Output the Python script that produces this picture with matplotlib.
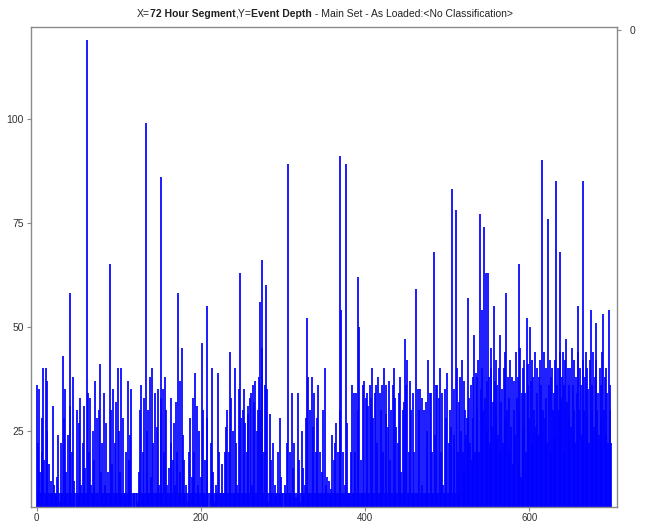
import numpy as np
import matplotlib
matplotlib.use("Agg")
import matplotlib.pyplot as plt

plt.rcParams['font.family'] = ['Liberation Sans', 'DejaVu Sans']

# event depth per 72 hour segment in rows of 50
depth_000 = [36,22,10,35,15,10,20,28,40,18,10,40,25,37,10,17,10,13,10,10,31,12,10,9,10,14,24,10,8,10,22,10,43,28,10,35,15,10,24,10,58,31,10,20,38,13,10,5,10,30]
depth_050 = [10,27,10,33,12,10,22,10,31,16,10,119,34,10,20,33,12,10,25,10,18,37,10,28,8,10,30,41,15,10,22,10,34,12,10,27,10,15,10,65,30,10,17,35,10,22,10,32,10,40]
depth_100 = [25,10,15,40,10,28,10,8,10,20,10,37,18,10,24,35,10,5,10,10,3,10,10,8,15,10,30,36,10,20,10,33,10,99,25,10,30,10,38,14,10,40,22,10,34,10,26,10,35,12]
depth_150 = [10,33,86,10,35,20,38,10,30,12,10,16,10,22,33,10,18,27,10,12,32,20,58,10,37,15,10,45,24,10,18,10,12,10,8,10,20,28,10,14,33,10,20,39,10,31,12,10,25,10]
depth_200 = [14,46,10,30,10,18,10,28,55,10,4,10,22,40,10,15,10,8,10,12,10,39,20,10,8,10,17,10,10,20,26,10,30,10,20,44,10,33,10,25,10,40,10,22,12,10,35,10,63,28]
depth_250 = [10,30,10,35,27,10,20,29,31,10,33,34,12,36,10,32,37,10,25,30,10,38,56,30,66,45,10,20,36,60,35,10,8,10,29,10,18,10,22,10,12,10,9,10,20,10,28,10,14,10]
depth_300 = [10,4,10,12,10,22,89,10,10,20,10,34,16,10,22,10,9,10,34,18,10,8,10,25,10,16,10,12,28,52,38,10,10,30,10,38,26,10,34,10,20,10,28,36,10,20,10,15,10,30]
depth_350 = [10,40,12,10,14,10,13,10,11,10,24,10,18,22,10,27,10,20,10,30,91,54,10,20,10,12,4,89,27,10,10,8,10,20,36,10,34,10,20,34,10,30,62,50,10,18,10,36,10,37]
depth_400 = [10,33,10,34,31,10,36,33,40,10,28,10,34,36,10,22,38,10,34,30,10,36,20,40,10,29,36,10,26,37,10,18,30,10,36,40,10,33,26,10,22,34,10,38,15,10,30,10,32,47]
depth_450 = [36,42,10,20,10,37,30,10,34,10,20,10,59,10,35,10,30,35,10,33,12,10,30,10,32,25,10,42,10,34,34,10,20,10,68,24,10,36,36,10,33,40,20,10,34,12,10,35,10,28]
depth_500 = [39,10,22,10,30,26,83,10,35,24,10,78,40,20,10,32,38,25,42,20,37,15,30,24,28,57,28,33,22,36,18,38,28,48,20,39,30,38,42,20,77,35,40,54,30,74,33,63,25,37]
depth_550 = [63,38,22,45,40,26,32,55,37,42,28,36,24,40,20,48,32,35,22,40,28,44,58,30,38,20,33,42,26,38,17,30,37,24,44,33,38,65,30,45,14,34,40,26,42,34,20,52,36,41]
depth_600 = [28,50,37,42,22,38,30,44,26,40,34,24,38,42,30,36,90,30,44,28,33,40,22,76,36,42,20,38,40,30,34,24,42,85,36,40,30,44,68,33,38,44,20,36,42,47,32,40,28,36]
depth_650 = [40,26,45,36,30,42,22,38,34,44,55,30,40,36,24,42,85,30,38,44,28,40,35,22,42,54,36,30,44,26,38,42,51,30,34,24,40,36,28,44,53,30,38,24,40,34,22,54,30,36,22]

depth = np.array(depth_000 + depth_050 + depth_100 + depth_150 + depth_200 + depth_250 + depth_300
                 + depth_350 + depth_400 + depth_450 + depth_500 + depth_550 + depth_600 + depth_650)
segment = np.arange(len(depth))

yticks = [25, 50, 75, 100]
xticks = [0, 200, 400, 600]

fig = plt.figure(figsize=(6.55, 5.22), dpi=100)
ax = fig.add_axes([0.0473, 0.0287, 0.8947, 0.9195])

ax.vlines(segment, 0, depth, color='#0000ff', linewidth=1.25)

ax.set_xlim(-7, 707)
ax.set_ylim(6.7, 122)
ax.set_xticks(xticks)
ax.set_yticks(yticks)
for s in ax.spines.values():
    s.set_color('#8a8a8a')
    s.set_linewidth(1.0)
ax.tick_params(direction='out', length=3, width=0.8, color='#8a8a8a',
               labelsize=7.5, labelcolor='#333333', pad=2)
ax.tick_params(axis='x', labelsize=7, pad=1)

# right hand axis, only a single "0" at the top
ax2 = ax.twinx()
ax2.set_ylim(0, 1)
ax2.set_yticks([0.993])
ax2.set_yticklabels(['0'])
ax2.tick_params(direction='out', length=3, width=0.8, color='#8a8a8a',
                labelsize=7.5, labelcolor='#333333', pad=6)
for s in ax2.spines.values():
    s.set_visible(False)

# title with bold pieces
pieces = [("X=", 'normal'), ("72 Hour Segment", 'bold'), (",Y=", 'normal'),
          ("Event Depth", 'bold'), (" - Main Set - As Loaded:<No Classification>", 'normal')]
fig.canvas.draw()
r = fig.canvas.get_renderer()
texts = []
total = 0
for s, w in pieces:
    t = fig.text(0, 0.974, s, fontsize=7.5, fontweight=w, color='#222222',
                 ha='left', va='center')
    wpx = t.get_window_extent(renderer=r).width
    texts.append((t, wpx))
    total += wpx
x = 325 - total / 2
for t, wpx in texts:
    t.set_x(x / 655)
    x += wpx

fig.savefig('out.png', dpi=100)
